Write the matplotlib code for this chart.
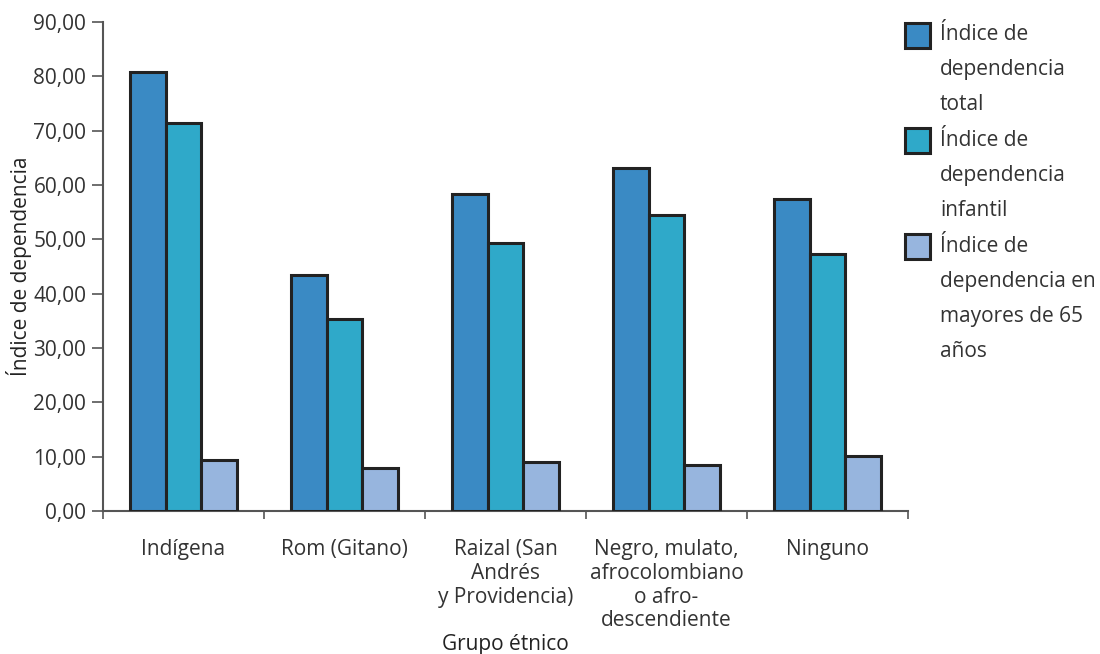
import numpy as np
import matplotlib
matplotlib.use('Agg')
import matplotlib.pyplot as plt
from matplotlib.patches import Rectangle
from matplotlib.ticker import FuncFormatter, MultipleLocator

plt.rcParams['font.family'] = ['Open Sans', 'DejaVu Sans']

groups = ['Indígena', 'Rom (Gitano)', 'Raizal (San\nAndrés\ny Providencia)',
          'Negro, mulato,\nafrocolombiano\no afro-\ndescendiente', 'Ninguno']
total = [80.8, 43.4, 58.3, 63.1, 57.4]
infantil = [71.4, 35.3, 49.3, 54.5, 47.3]
mayores = [9.4, 7.9, 9.0, 8.5, 10.1]
series_labels = [['Índice de', 'dependencia', 'total'],
                 ['Índice de', 'dependencia', 'infantil'],
                 ['Índice de', 'dependencia en', 'mayores de 65', 'años']]
colors = ['#3a8ac4', '#2fa9c9', '#97b5de']
txt = '#333333'
fs = 15

W, H = 1100, 654
fig = plt.figure(figsize=(W / 100, H / 100), dpi=100)
ax = fig.add_axes([103 / W, 1 - 511 / H, (908 - 103) / W, (511 - 22) / H])

x = np.arange(len(groups))
w = 0.222
for i, vals in enumerate([total, infantil, mayores]):
    ax.bar(x + (i - 1) * w, vals, w, color=colors[i], edgecolor='#222222',
           linewidth=2.2, zorder=3)

ax.set_xlim(-0.5, len(groups) - 0.5)
ax.set_ylim(0, 90)
ax.yaxis.set_major_locator(MultipleLocator(10))
ax.yaxis.set_major_formatter(FuncFormatter(lambda v, p: f'{v:.2f}'.replace('.', ',')))
ax.set_xticks(x)
ax.set_xticklabels(groups, fontsize=fs, color=txt, linespacing=1.18)
ax.set_xticks(np.arange(-0.5, len(groups)), minor=True)
ax.tick_params(axis='x', which='major', length=0, pad=20)
ax.tick_params(axis='x', which='minor', length=6, width=1.2, color='#555555', direction='out')
ax.tick_params(axis='y', length=8, width=1.2, color='#555555', labelsize=fs,
               labelcolor=txt, pad=4)
for s in ['top', 'right']:
    ax.spines[s].set_visible(False)
for s in ['left', 'bottom']:
    ax.spines[s].set_color('#555555')
    ax.spines[s].set_linewidth(1.5)

ax.set_ylabel('Índice de dependencia', fontsize=fs, color='#222222')
ax.yaxis.set_label_coords(-0.088, 0.5)
ax.set_xlabel('Grupo étnico', fontsize=fs, color='#222222', labelpad=2)

# legend drawn by hand: square next to first line of each wrapped label
y = 35.0
for lines, c in zip(series_labels, colors):
    fig.patches.append(Rectangle((905 / W, 1 - (y + 12.5) / H), 25 / W, 25 / H,
                                 transform=fig.transFigure, facecolor=c,
                                 edgecolor='#222222', linewidth=2.2))
    for line in lines:
        fig.text(940 / W, 1 - y / H, line, fontsize=fs, color=txt, va='center', ha='left')
        y += 34.8
    y += 1.5

fig.savefig('out.png', dpi=100)
